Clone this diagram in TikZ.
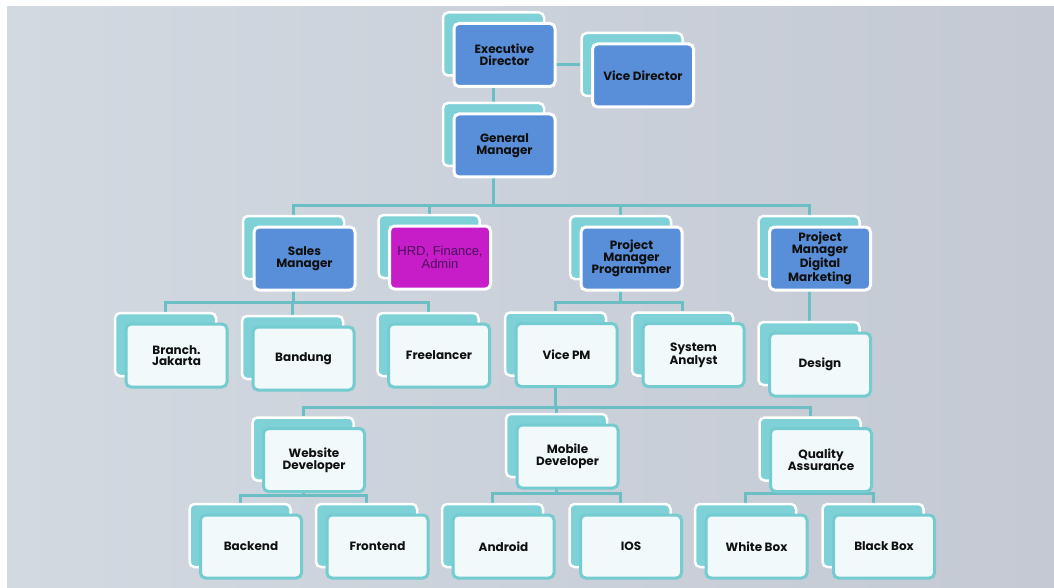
\documentclass[tikz,border=0pt]{standalone}
\usepackage{fontspec}
\newfontfamily\cg{Poppins}
\newfontfamily\ar{Liberation Sans}
\usetikzlibrary{calc}
\definecolor{bgA}{HTML}{D2D9E1}
\definecolor{bgB}{HTML}{C4C9D3}
\definecolor{tealb}{HTML}{7ED2D7}
\definecolor{tealline}{HTML}{6BBEC4}
\definecolor{tealedge}{HTML}{74CBD0}
\definecolor{bluef}{HTML}{598ED8}
\definecolor{magf}{HTML}{C61DC9}
\definecolor{lightf}{HTML}{F1F9FB}
\definecolor{txt}{HTML}{101010}
\definecolor{hrdtxt}{HTML}{4E0F5C}
\pgfdeclarelayer{bg}
\pgfsetlayers{bg,main}
\newcommand\card[5]{%
  \node[back] (#1b) at (#2-11,#3-11) {};
  \node[#4] (#1) at (#2,#3) {#5};}
\begin{document}
\begin{tikzpicture}[x=1pt,y=-1pt,
  cardbase/.style={rounded corners=5pt, minimum width=101pt, minimum height=63pt, inner sep=1pt, align=center, text=txt, font=\cg\bfseries\fontsize{12}{11.7}\selectfont},
  back/.style={cardbase, fill=tealb, draw=white, line width=2.5pt},
  bluecard/.style={cardbase, fill=bluef, draw=white, line width=3pt},
  lightcard/.style={cardbase, fill=lightf, draw=tealedge, line width=3pt},
  hrdcard/.style={cardbase, fill=magf, draw=white, line width=3pt, text=hrdtxt, font=\ar\fontsize{13}{13}\selectfont},
  conn/.style={draw=tealline, line width=3pt},
]
\useasboundingbox (0,0) rectangle (1054,588);
\begin{pgfonlayer}{bg}
\fill[white] (0,0) rectangle (1054,588);
\shade[left color=bgA, right color=bgB] (7,7) rectangle (1054,587);
\end{pgfonlayer}

\card{ED}{504.5}{55}{bluecard}{Executive\\Director}
\card{VD}{643}{75.5}{bluecard}{Vice Director}
\card{GM}{504.5}{145.5}{bluecard}{General\\Manager}
\card{SM}{304.5}{258.5}{bluecard}{Sales\\Manager}
\card{HRD}{440}{257.5}{hrdcard}{HRD, Finance,\\Admin}
\card{PMP}{631.5}{258.5}{bluecard}{Project\\Manager\\Programmer}
\card{PMDM}{820}{258.5}{bluecard}{Project\\Manager\\Digital\\Marketing}
\card{BJ}{176.5}{355.5}{lightcard}{Branch.\\Jakarta}
\card{BD}{303.5}{358.5}{lightcard}{Bandung}
\card{FL}{439}{355.5}{lightcard}{Freelancer}
\card{VPM}{566.5}{355}{lightcard}{Vice PM}
\card{SA}{693.5}{355}{lightcard}{System\\Analyst}
\card{DS}{820}{364.5}{lightcard}{Design}
\card{WD}{314}{460}{lightcard}{Website\\Developer}
\card{MD}{567.5}{456.5}{lightcard}{Mobile\\Developer}
\card{QA}{821}{460}{lightcard}{Quality\\Assurance}
\card{BE}{251}{546.5}{lightcard}{Backend}
\card{FE}{377.5}{546.5}{lightcard}{Frontend}
\card{AN}{503.5}{546.5}{lightcard}{Android}
\card{IO}{631}{546.5}{lightcard}{IOS}
\card{WB}{756.5}{546.5}{lightcard}{White Box}
\card{BB}{884}{546.5}{lightcard}{Black Box}

\coordinate (b1) at (0,205);
\coordinate (b2) at (0,302);
\coordinate (b3) at (0,407);
\coordinate (b4) at (0,495);
\coordinate (b5) at (0,493);
\begin{pgfonlayer}{bg}
\draw[conn] (VDb) -- (VDb -| EDb);
\draw[conn] (EDb) -- (GMb);
\foreach \c in {SMb,HRDb,PMPb,PMDMb} \draw[conn] (GMb) -- (GMb |- b1) -| (\c);
\foreach \c in {BJb,BDb,FLb} \draw[conn] (SMb) -- (SMb |- b2) -| (\c);
\foreach \c in {VPMb,SAb} \draw[conn] (PMPb) -- (PMPb |- b2) -| (\c);
\draw[conn] (PMDMb) -- (DSb);
\foreach \c in {WDb,MDb,QAb} \draw[conn] (VPMb) -- (VPMb |- b3) -| (\c);
\foreach \c in {BEb,FEb} \draw[conn] (WDb) -- (WDb |- b4) -| (\c);
\foreach \c in {ANb,IOb} \draw[conn] (MDb) -- (MDb |- b5) -| (\c);
\foreach \c in {WBb,BBb} \draw[conn] (QAb) -- (QAb |- b5) -| (\c);
\end{pgfonlayer}
\end{tikzpicture}
\end{document}
